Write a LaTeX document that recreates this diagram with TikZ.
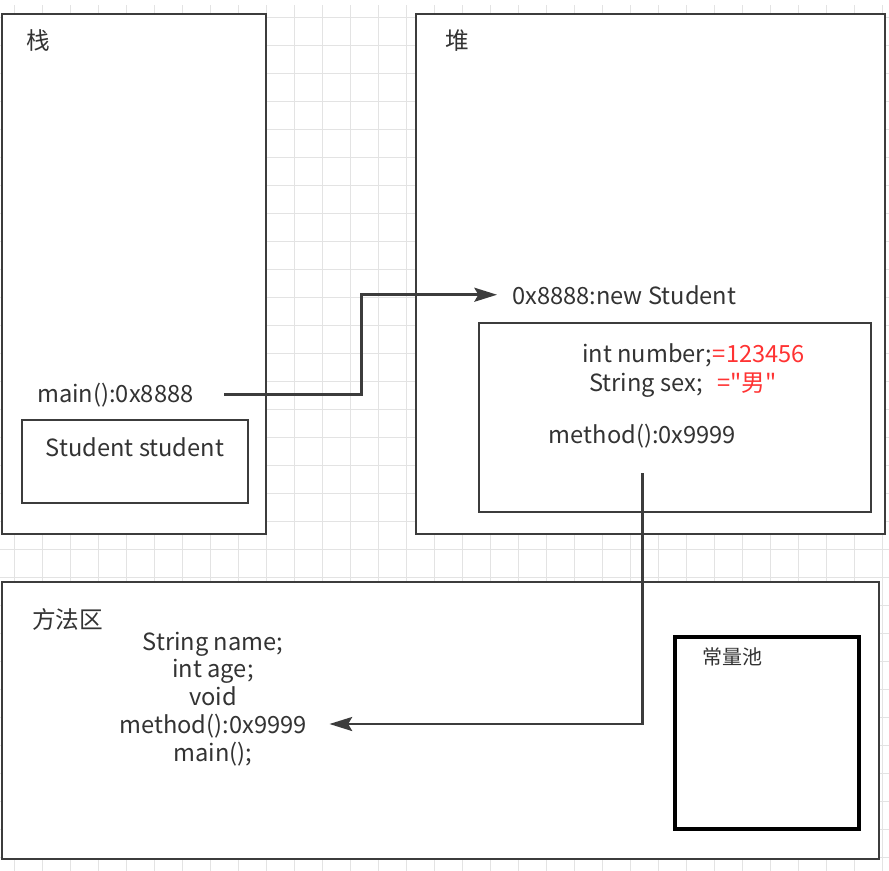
\documentclass[tikz,border=0pt]{standalone}
\usepackage{fontspec}
\newfontfamily\memfont{Noto Sans CJK SC}
\usetikzlibrary{arrows.meta, fit}
\definecolor{lineGray}{HTML}{3C3C3C}
\definecolor{textGray}{HTML}{333333}
\definecolor{gridGray}{HTML}{E3E3E3}
\definecolor{valRed}{HTML}{FF3333}
\tikzset{
  mem/.style = {
    font=\memfont\fontsize{17.75pt}{20.8pt}\selectfont, text=textGray,
    >={Stealth[length=17pt, width=10.5pt, inset=3pt]},
  },
  area/.style = {draw=lineGray, line width=1.9pt, fill=white, inner sep=0pt},
  pool/.style = {draw=black, line width=2.6pt, fill=white, inner sep=0pt},
  gridline/.style = {draw=gridGray, line width=0.75pt},
  lbl/.style = {inner sep=0pt},
  val/.style = {lbl, text=valRed},
  arr/.style = {->, draw=lineGray, line width=1.9pt},
}

\begin{document}
\begin{tikzpicture}[mem, x=0.75pt, y=-0.75pt]

\fill[white] (0,0) rectangle (889,871);
\useasboundingbox (0,0) rectangle (889,871);
\foreach \i in {0,...,31} \draw[gridline] ({14+28*\i},5) -- ({14+28*\i},871);
\foreach \j in {0,...,30} \draw[gridline] (0,{17+28*\j}) -- (889,{17+28*\j});

% memory areas
\node[area, fit={(2,14) (266,534)}]   (stack)  {};
\node[area, fit={(416,14) (885,534)}] (heap)   {};
\node[area, fit={(2,582) (879,859)}]  (method) {};
\node[area, fit={(479,323) (871,512)}] (obj)   {};
\node[area, fit={(22,420) (248,503)}]  (ref)   {};
\node[pool, fit={(675,637) (859,829)}] (cpool) {};

% labels
\node[lbl, anchor=west] (stk) at (26,41)  {栈};
\node[lbl, anchor=west] (hp)  at (445,41) {堆};
\node[lbl, anchor=base west, inner xsep=23pt] (main) at (6.3,402) {main():0x8888};
\node[lbl, anchor=base] (var) at (135,456) {Student student};
\node[lbl, anchor=base west, inner xsep=11.25pt] (newobj) at (497,304) {0x8888:new Student};
\node[lbl, anchor=base west] (num) at (582,362) {int number;};
\node[val, anchor=base west] (numval) at (num.base east) {=123456};
\node[lbl, anchor=base west] (sex) at (589,391) {String sex;};
\node[val, anchor=base west] (sexval) at (717,391) {="男"};
\node[lbl, anchor=base] (meth) at (642.5,443) {method():0x9999};
\node[lbl, anchor=west] (ma) at (32,619) {方法区};
\node[lbl, anchor=base, align=center, inner xsep=17pt] (mtext) at (213,761)
  {String name;\\int age;\\void\\method():0x9999\\main();};
\node[lbl, anchor=west, font=\memfont\fontsize{15pt}{18pt}\selectfont] (cp) at (702,657) {常量池};

% references
\draw[arr] (main.east) -- ++(137,0) |- (newobj.west);
\draw[arr, shorten <=19pt] (meth.south) |- ([yshift=27.75pt]mtext.base east);

\end{tikzpicture}
\end{document}
